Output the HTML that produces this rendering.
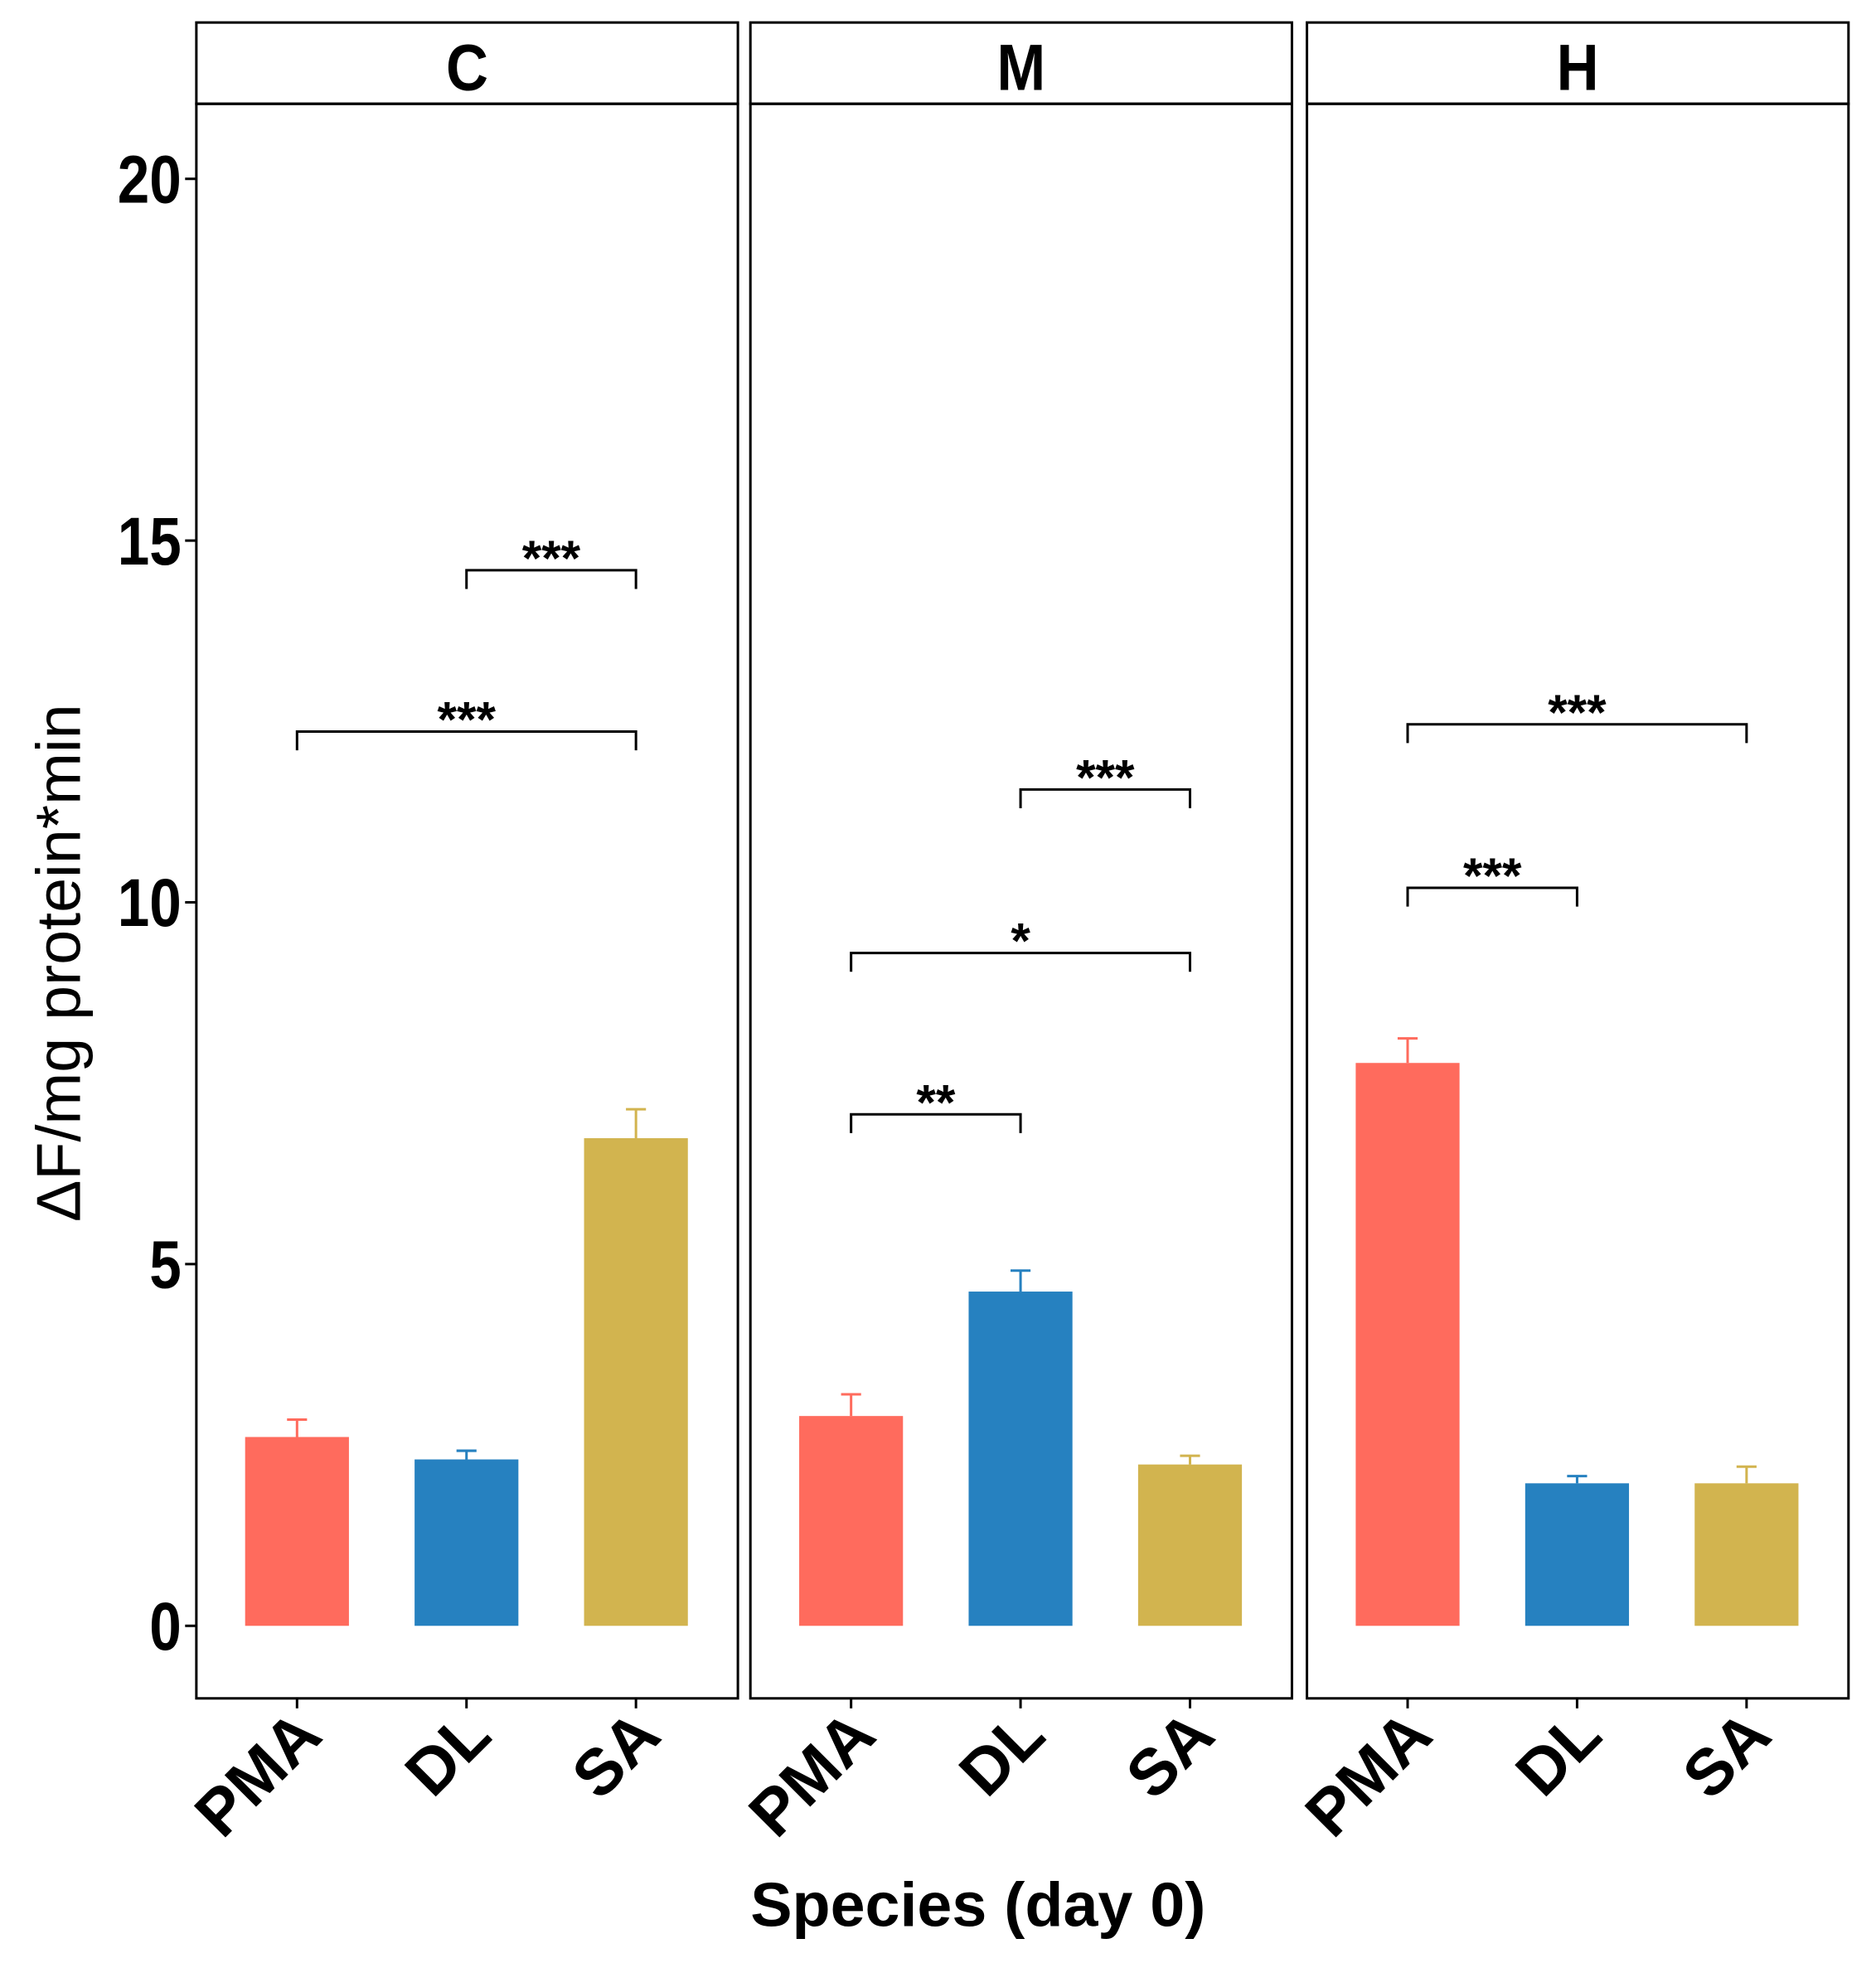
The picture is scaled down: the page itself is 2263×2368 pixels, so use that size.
<!DOCTYPE html>
<html><head><meta charset="utf-8"><style>
html,body{margin:0;padding:0;background:#fff}
svg{display:block}
text{font-family:"Liberation Sans",Arial,sans-serif}
</style></head><body>
<svg id="chart" width="2263" height="2368" viewBox="0 0 1500 1569.6" xmlns="http://www.w3.org/2000/svg"></svg>
<script>
const panels = ["C","M","H"];
const categories = ["PMA","DL","SA"];
const colors = ["#FF6B5D","#2681C0","#D2B44F"];
const meansC = [2.61, 2.30, 6.74];
const meansM = [2.90, 4.62, 2.23];
const meansH = [7.78, 1.97, 1.97];
const errC = [2.85, 2.42, 7.14];
const errM = [3.20, 4.91, 2.35];
const errH = [8.12, 2.07, 2.20];
const yTicks = [0, 5, 10, 15, 20];
// brackets: [fromIdx, toIdx, yValue, label]
const sigC = [[1,2,14.59,"***"],[0,2,12.36,"***"]];
const sigM = [[1,2,11.56,"***"],[0,2,9.30,"*"],[0,1,7.07,"**"]];
const sigH = [[0,2,12.46,"***"],[0,1,10.2,"***"]];

const means = [meansC, meansM, meansH];
const errs = [errC, errM, errH];
const sigs = [sigC, sigM, sigH];
const NS = "http://www.w3.org/2000/svg";
const svg = document.getElementById("chart");
function mk(tag, attrs, parent){const e=document.createElementNS(NS,tag);for(const k in attrs)e.setAttribute(k,attrs[k]);(parent||svg).appendChild(e);return e;}

const panelLeft = [157, 600, 1045], panelW = 433;
const stripTop = 18, plotTop = 83, plotBottom = 1358;
const y0px = 1300, y20px = 143;
function yScale(v){return y0px - v*(y0px - y20px)/20;}
function xScale(p,i){return panelLeft[p] + 80.5 + i*135.5;}
const barW = 83, capW = 16, drop = 15;

yTicks.forEach(t=>{
  const l = mk("line",{x1:148,x2:157,y1:yScale(t),y2:yScale(t),stroke:"#000","stroke-width":2});
  
  
  const tx = mk("text",{x:0,y:0,"text-anchor":"end","font-size":54,"font-weight":"bold",transform:"translate(145,"+(yScale(t)+19)+") scale(0.85,1)"});
  tx.textContent = t;
  
  
});

panels.forEach((pn,p)=>{
  const g = mk("g",{});
  
  
  const strip = mk("rect",{x:panelLeft[p],y:stripTop,width:panelW,height:plotTop-stripTop,fill:"#fff",stroke:"#000","stroke-width":2},g);
  
  
  const st = mk("text",{x:0,y:0,"text-anchor":"middle","font-size":52,"font-weight":"bold",transform:"translate("+(panelLeft[p]+panelW/2)+",72) scale(0.9,1)"},g);
  st.textContent = pn;
  
  
  const frame = mk("rect",{x:panelLeft[p],y:plotTop,width:panelW,height:plotBottom-plotTop,fill:"none",stroke:"#000","stroke-width":2},g);
  
  
  categories.forEach((c,i)=>{
    const cx = xScale(p,i);
    const eb = mk("line",{x1:cx,x2:cx,y1:yScale(errs[p][i]),y2:yScale(means[p][i]),stroke:colors[i],"stroke-width":2},g);
    
    
    const cap = mk("line",{x1:cx-capW/2,x2:cx+capW/2,y1:yScale(errs[p][i]),y2:yScale(errs[p][i]),stroke:colors[i],"stroke-width":2},g);
    
    
    const b = mk("rect",{x:cx-barW/2,y:yScale(means[p][i]),width:barW,height:yScale(0)-yScale(means[p][i]),fill:colors[i]},g);
    
    
    const tk = mk("line",{x1:cx,x2:cx,y1:plotBottom,y2:plotBottom+8,stroke:"#000","stroke-width":2},g);
    
    
    const tl = mk("text",{x:0,y:0,"text-anchor":"end","font-size":52,"font-weight":"bold",transform:"translate("+(cx+22)+","+(plotBottom+32)+") rotate(-45)"},g);
    tl.textContent = c;
    
    
  });
  sigs[p].forEach(s=>{
    const xa = xScale(p,s[0]), xb = xScale(p,s[1]), y = yScale(s[2]);
    const br = mk("path",{d:"M"+xa+","+(y+drop)+"V"+y+"H"+xb+"V"+(y+drop),fill:"none",stroke:"#000","stroke-width":2},g);
    
    
    const sl = mk("text",{x:(xa+xb)/2,y:y+4,"text-anchor":"middle","font-size":40,"font-weight":"bold"},g);
    sl.textContent = s[3];
    
    
  });
});

const xt = mk("text",{x:782,y:1540,"text-anchor":"middle","font-size":50,"font-weight":"bold"});
xt.textContent = "Species (day 0)";


const yt = mk("text",{x:0,y:0,"text-anchor":"middle","font-size":50,transform:"translate(64,770) rotate(-90)"});
yt.textContent = "ΔF/mg protein*min";


</script>
</body></html>
